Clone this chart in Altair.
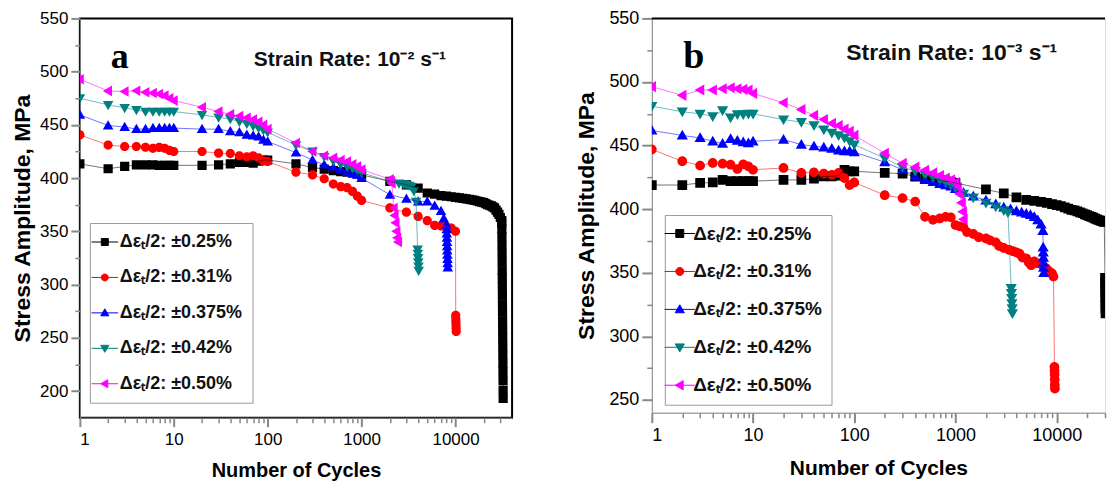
import altair as alt
import pandas as pd

SERIES = ["Δεₜ/2: ±0.25%", "Δεₜ/2: ±0.31%", "Δεₜ/2: ±0.375%", "Δεₜ/2: ±0.42%", "Δεₜ/2: ±0.50%"]
COLORS = ["#000000", "#ff0000", "#0000ff", "#008080", "#ff00ff"]
# marker outlines; the zero-area segment only shows where a stroke is drawn (the legend keys)
SHAPES = [
    "M-3.8,0H3.8M-1,-1H1V1H-1Z",
    "M-3.8,0H3.8M1,0A1,1,0,1,1,-1,0A1,1,0,1,1,1,0Z",
    "M-3.8,0H3.8M0,-1.15L1.15,0.85H-1.15Z",
    "M-3.8,0H3.8M0,1.15L1.15,-0.85H-1.15Z",
    "M-3.8,0H3.8M-1.15,0L0.85,-1.15V1.15Z",
]

EARLY = [1, 2, 3, 4, 5, 6, 7, 8, 9, 10, 20, 30, 40, 50, 60, 70, 80, 90, 100,
         200, 300, 400, 500, 600, 700, 800, 900, 1000]

# ---------------- panel a : strain rate 1e-2 ----------------
A_025_N = EARLY + [2000, 3000, 4000, 5000, 6000, 7000, 8000, 9000, 10000, 11000, 12000, 13000,
                   14000, 15000, 16000, 17000, 18000, 19000, 20000, 21000, 22000, 23000, 24000,
                   25000, 26000, 27000, 28000, 29000, 30000, 31000,
                   31100, 31150, 31200, 31250, 31300, 31350, 31400, 31450, 31500, 31550, 31600,
                   31650, 31700, 31750, 31800, 31850, 31900, 31950, 32000, 32050, 32100, 32150]
A_025_S = [413.4, 408.8, 411, 412.5, 412.5, 412.5, 412, 412, 412, 412,
           412, 412.5, 413.4, 414.7, 414.7, 414, 416, 417, 417,
           413.4, 410, 408.4, 407, 406, 405.6, 404.7, 404, 403,
           397, 393.7, 390.6, 386, 385, 383.5, 383, 382.5, 382, 381.5, 381, 380.5,
           380, 379.5, 379, 378.5, 378, 377.5, 377, 376, 375, 374.5, 374,
           373, 372, 370, 368, 366, 363, 358,
           360, 352, 345, 337, 329, 321, 313, 306, 298, 290, 282,
           274, 266, 258, 250, 242, 234, 226, 218, 210, 201, 193]

A_031_N = EARLY + [2000, 3000, 4000, 5000, 6000, 7000, 8000, 9000, 10000,
                   10050, 10080, 10100, 10120, 10150, 10170]
A_031_S = [440.6, 431, 429.7, 429.7, 429, 428, 428.8, 428, 426, 425,
           425, 423.4, 423, 421, 420, 421, 419, 416, 415.6,
           405.6, 403, 399.4, 394.4, 392, 391, 387.5, 383, 379,
           372, 368, 364, 360, 355.6, 355, 354.4, 353, 350,
           271, 268, 265, 262, 259, 256]

A_0375_N = EARLY + [2000, 3000, 4000, 5000, 6000, 7000, 7500, 8000,
                    8050, 8080, 8100, 8120, 8150, 8170, 8200, 8220, 8250, 8270]
A_0375_S = [459.4, 449.4, 448, 446, 446, 447, 447, 447, 447, 447,
            446, 446, 444, 443, 440.6, 440, 439, 436, 434.4,
            424, 417, 412.5, 410, 408.4, 406, 404.7, 403, 400,
            384.4, 380.6, 378, 378, 374, 369, 362, 356,
            352, 348, 344, 340, 336, 332, 328, 324, 320, 316]

A_042_N = EARLY + [2000, 2500, 2800, 3000, 3200, 3400, 3600, 3800,
                   3950, 3970, 3990, 4010, 4030, 4050]
A_042_S = [475, 468.8, 466, 464, 462.5, 462.5, 462.5, 462.5, 462.5, 462.5,
           459.4, 457, 455.6, 453, 451, 449, 447, 445, 443,
           431, 425, 420, 416, 413, 411, 409, 407, 405,
           397, 395, 394, 393.5, 393, 392, 388, 378,
           333, 329, 325, 321, 317, 313]

A_050_N = EARLY + [2000, 2050, 2100, 2200, 2250, 2300, 2350, 2400, 2450]
A_050_S = [492.8, 481.9, 481.3, 482, 480.6, 480, 479, 477.5, 475, 472.8,
           466.6, 462.5, 460, 458.4, 456.6, 455, 453, 450, 446,
           433, 425, 421, 419, 417, 415.6, 413, 411, 408,
           399, 397, 395, 372, 365, 358, 350, 344, 340]

# ---------------- panel b : strain rate 1e-3 ----------------
B_025_N = EARLY + [2000, 3000, 4000, 5000, 6000, 7000, 8000, 9000, 10000, 11000, 12000, 13000,
                   14000, 15000, 16000, 17000, 18000, 19000, 20000, 21000, 22000, 23000, 24000,
                   25000, 26000, 27000, 28000, 29000, 29500,
                   30000, 30050, 30100, 30150, 30200, 30250, 30300, 30350]
B_025_S = [419, 419, 420.6, 421, 423, 422, 422, 422, 422, 422,
           423, 423, 424, 425.8, 425.8, 426.4, 431, 429.8, 429.8,
           428.5, 428, 425.6, 424, 423.5, 423, 422, 421.5, 420.6,
           415.5, 412.5, 409.3, 407.4, 406.5, 405.8, 405, 404, 403.2, 402.5, 401.5, 400.5,
           399.5, 399, 398.3, 397.5, 396.8, 396, 395.3, 394.6, 394, 393.3, 392.6,
           392, 391.5, 391, 390.6, 390.2, 390,
           346, 342, 338, 334, 330, 326, 322, 318]

B_031_N = EARLY + [1100, 1200, 1300, 1500, 1700, 2000, 2200, 2500, 2700, 3000, 3400, 3700, 4000,
                   4300, 4600, 5000, 5300, 5600, 6000, 6400, 6800, 7400, 7900, 8500, 9000, 9300,
                   9500, 9520, 9540, 9560, 9580, 9600]
B_031_S = [447, 437.7, 434.3, 436.4, 435.8, 435, 431.6, 435.3, 433.7, 431,
           432.4, 428.5, 429, 428, 427, 428.5, 424.5, 419, 421,
           411, 408.7, 406, 394, 391.6, 392.7, 394, 393.6, 387.5,
           386.5, 385.7, 382, 380.5, 378, 377, 375.5, 374, 371, 369.5, 368, 367, 366,
           365, 362, 361.4, 358, 356, 359, 357.5, 357.3, 355, 353.5, 351, 349.5, 347,
           276, 273, 270, 266, 262, 259]

B_0375_N = EARLY + [1200, 1500, 2000, 2500, 3000, 3500, 4000, 4500, 5000, 5500, 6000, 6500, 7000, 7300,
                    7350, 7370, 7390, 7410, 7430, 7450]
B_0375_S = [461.9, 458, 456, 453.4, 451.6, 455.3, 454, 452.7, 452, 453.4,
            454.7, 450.8, 449.5, 448.7, 447.7, 446.3, 445.6, 445.6, 444.8,
            437, 431, 425.8, 423, 421.5, 420, 419, 418, 416,
            413, 410, 407, 404, 401.5, 400, 398.5, 397.5, 396.5, 395.5, 394, 391.5, 388, 383,
            370, 366, 362, 358, 354, 350]

B_042_N = EARLY + [1200, 1500, 2000, 2500, 3000, 3300, 3550, 3570, 3590, 3610, 3630, 3650]
B_042_S = [481, 476.6, 475, 473, 477.6, 472, 474.5, 474.5, 475, 475,
           470.5, 468.4, 465.8, 462.6, 460, 458, 456, 453.4, 450.8,
           440, 433, 430, 427, 425, 423, 421, 419, 417,
           412, 409, 405, 402, 399, 397.5,
           338, 334, 330, 326, 322, 318]

B_050_N = EARLY + [1050, 1100, 1150, 1180, 1200]
B_050_S = [496.3, 489.5, 493.7, 493.7, 494.7, 495.5, 494.7, 494.2, 493.7, 491,
           483.7, 478.4, 473.7, 470.5, 467.4, 465.8, 463, 461.3, 458,
           444, 436, 433, 430.6, 428.5, 426.4, 424.5, 423, 421,
           417, 412, 405, 398, 392]

X_MAJOR = [1, 10, 100, 1000, 10000]
X_TICKS = [1, 2, 3, 4, 5, 6, 7, 8, 9, 10, 20, 30, 40, 50, 60, 70, 80, 90,
           100, 200, 300, 400, 500, 600, 700, 800, 900,
           1000, 2000, 3000, 4000, 5000, 6000, 7000, 8000, 9000, 10000, 20000, 30000]

FONT = "Liberation Sans"


def frame(pairs):
    rows = []
    for k, (ns, ss) in enumerate(pairs):
        for n, s in zip(ns, ss):
            rows.append({"series": SERIES[k], "k": k, "N": n, "S": s})
    return pd.DataFrame(rows)


def panel(df, xmax, ydom, yticks, w, h, fs, legend_xy, pad, rowpad, loff, soff, msize, lsize,
          letter, letter_xy, rate, rate_xy, frame_top, tick_major):
    major_test = "indexof(%s, datum.value) >= 0" % str(X_MAJOR)
    xaxis = alt.Axis(values=X_TICKS, labelExpr=major_test + " ? datum.value + '' : ''",
                     labelOverlap=False, labelFontSize=fs["tick"], titleFontSize=fs["xt"],
                     ticks=True,
                     tickSize={"condition": {"test": major_test, "value": tick_major}, "value": 5},
                     tickWidth={"condition": {"test": major_test, "value": 2}, "value": 1.5},
                     labelPadding=fs["lp"], titlePadding=fs["tp"], grid=False)
    ymaj = "datum.value % 50 == 0"
    yaxis = alt.Axis(values=yticks, labelExpr=ymaj + " ? datum.value + '' : ''",
                     labelOverlap=False, labelFontSize=fs["tick"], titleFontSize=fs["yt"],
                     ticks=True,
                     tickSize={"condition": {"test": ymaj, "value": tick_major}, "value": 5},
                     tickWidth={"condition": {"test": ymaj, "value": 2}, "value": 1.5},
                     labelPadding=3, titlePadding=fs["ytp"], grid=False)
    xs = alt.Scale(type="log", domain=[1, xmax], nice=False)
    ys = alt.Scale(domain=ydom, nice=False, zero=False)
    cs = alt.Scale(domain=SERIES, range=COLORS)
    ss = alt.Scale(domain=SERIES, range=SHAPES)
    leg = alt.Legend(orient="none", legendX=legend_xy[0], legendY=legend_xy[1], title=None,
                     fillColor="white", strokeColor="#9a9a9a", padding=pad, rowPadding=rowpad,
                     labelFont=FONT, labelFontSize=fs["leg"], labelFontWeight="bold",
                     labelColor="#111111", symbolSize=lsize, labelOffset=loff,
                     symbolOffset=soff, symbolStrokeWidth=1, labelLimit=400)

    X = alt.X("N:Q", scale=xs, axis=xaxis, title="Number of Cycles")
    Y = alt.Y("S:Q", scale=ys, axis=yaxis, title="Stress Amplitude, MPa")

    line_layers = [
        alt.Chart(df).transform_filter(alt.datum.k == k).mark_line(
            strokeWidth=1, opacity=0.55, clip=True, color=COLORS[k]).encode(
            x=X, y=Y, order="N:Q")
        for k in range(len(SERIES))
    ]
    pts = alt.Chart(df).mark_point(filled=True, size=msize, opacity=1, strokeWidth=0,
                                   clip=True).encode(
        x=X, y=Y,
        color=alt.Color("series:N", scale=cs, legend=leg),
        stroke=alt.Stroke("series:N", scale=cs, legend=leg),
        shape=alt.Shape("series:N", scale=ss, legend=leg),
        order="k:Q")
    lt = alt.Chart(pd.DataFrame({"N": [letter_xy[0]], "S": [letter_xy[1]], "t": [letter]})).mark_text(
        font="Liberation Serif", fontWeight="bold", fontSize=fs["letter"], align="center",
        baseline="alphabetic", color="black").encode(x=X, y=Y, text="t:N")
    rt = alt.Chart(pd.DataFrame({"N": [rate_xy[0]], "S": [rate_xy[1]], "t": [rate]})).mark_text(
        font=FONT, fontWeight="bold", fontSize=fs["rate"], align="left",
        baseline="alphabetic", color="#111111").encode(x=X, y=Y, text="t:N")
    layers = [pts] + line_layers + [lt, rt]
    if frame_top:
        top = alt.Chart(pd.DataFrame({"N": [1], "N2": [xmax], "S": [ydom[1]]})).mark_rule(
            strokeWidth=2, color="black").encode(x=X, x2="N2:Q", y=Y)
        layers.append(top)
    ch = alt.layer(*layers).properties(width=w, height=h)
    return ch


df_a = frame([(A_025_N, A_025_S), (A_031_N, A_031_S), (A_0375_N, A_0375_S),
              (A_042_N, A_042_S), (A_050_N, A_050_S)])
df_b = frame([(B_025_N, B_025_S), (B_031_N, B_031_S), (B_0375_N, B_0375_S),
              (B_042_N, B_042_S), (B_050_N, B_050_S)])

fs_a = {"tick": 17, "leg": 18, "xt": 20, "yt": 23, "lp": 5, "tp": 13, "ytp": 5,
        "letter": 36, "rate": 21}
fs_b = {"tick": 18, "leg": 19, "xt": 21, "yt": 23, "lp": 4, "tp": 13, "ytp": 10,
        "letter": 38, "rate": 23}

pa = panel(df_a, 40000, [175, 550], list(range(200, 551, 25)), 433, 400, fs_a,
           (10, 205), 10, 17.5, 6, -4, 85, 49, "a", (2.66, 503), "Strain Rate: 10⁻² s⁻¹", (71, 505),
           False, 9).properties(view=alt.ViewBackground(stroke="black", strokeWidth=2))
pb = panel(df_b, 30000, [240, 550], list(range(250, 551, 25)), 454, 395, fs_b,
           (13, 197), 9, 18, 4, -3.5, 95, 64, "b", (2.6, 510.7), "Strain Rate: 10⁻³ s⁻¹", (83.3, 517),
           True, 10)

chart = alt.hconcat(pa, pb, spacing=62).resolve_scale(
    color="independent", shape="independent", stroke="independent"
).properties(
    padding={"left": 10, "top": 8, "right": 0, "bottom": 0}
).configure_view(stroke="transparent").configure_axis(
    domainColor="black", domainWidth=2.5, tickColor="black",
    labelFont=FONT, labelFontWeight="bold", labelColor="#111111",
    titleFont=FONT, titleFontWeight="bold", titleColor="#111111"
).configure(background="white")

chart.save("out.html", embed_options={"renderer": "svg", "actions": False})
